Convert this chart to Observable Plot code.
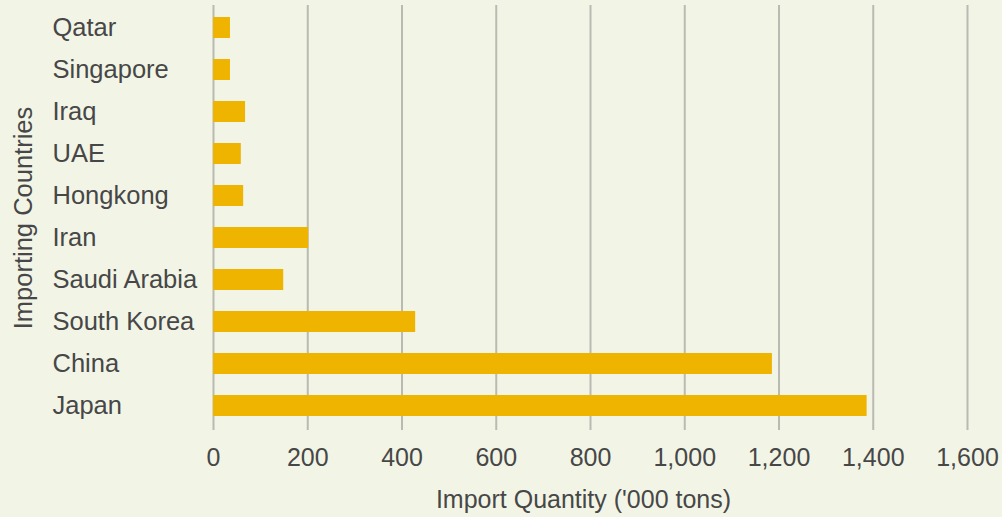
<!DOCTYPE html>
<html>
<head>
<meta charset="utf-8">
<script src="https://cdn.jsdelivr.net/npm/d3@7"></script>
<script src="https://cdn.jsdelivr.net/npm/@observablehq/plot@0.6"></script>
<style>
  html, body { margin: 0; padding: 0; background: #f2f5e6; }
  #chart svg { display: block; background: #f2f5e6; }
</style>
</head>
<body>
<div id="chart"></div>
<script>
const countries = ["Qatar", "Singapore", "Iraq", "UAE", "Hongkong", "Iran", "Saudi Arabia", "South Korea", "China", "Japan"];
const imports = [36, 36, 68, 59, 64, 202, 149, 429, 1186, 1387];
const xTicks = [0, 200, 400, 600, 800, 1000, 1200, 1400, 1600];
const xTitle = "Import Quantity ('000 tons)";
const yTitle = "Importing Countries";

const data = countries.map((c, i) => ({country: c, value: imports[i]}));

const chart = Plot.plot({
  width: 1002,
  height: 517,
  marginLeft: 213,
  marginRight: 35,
  marginTop: 5,
  marginBottom: 87,
  style: {background: "#f2f5e6", fontFamily: "'Liberation Sans', Arial, sans-serif", fontSize: "25px", color: "#474747"},
  x: {domain: [0, 1600], ticks: xTicks, tickFormat: d3.format(","), label: null},
  y: {domain: countries, paddingInner: 0.5, paddingOuter: 0.25, insetTop: 1.5, insetBottom: 3, label: null},
  marks: [
    Plot.gridX(xTicks, {stroke: "#b9bab2", strokeWidth: 2, strokeOpacity: 1}),
    Plot.barX(data, {x: "value", y: "country", fill: "#efb400"}),
    Plot.axisX({ticks: xTicks, tickSize: 0, tickPadding: 18, tickFormat: d3.format(","), fontSize: 25, label: null}),
    Plot.text([xTitle], {frameAnchor: "bottom", dy: 69, dx: -7, lineAnchor: "middle", fontSize: 25, fill: "#474747"}),
    Plot.axisY({tickSize: 0, tickPadding: 161, textAnchor: "start", fontSize: 25.5, label: yTitle, labelAnchor: "center", labelOffset: 200})
  ]
});
document.getElementById("chart").appendChild(chart);
</script>
</body>
</html>
